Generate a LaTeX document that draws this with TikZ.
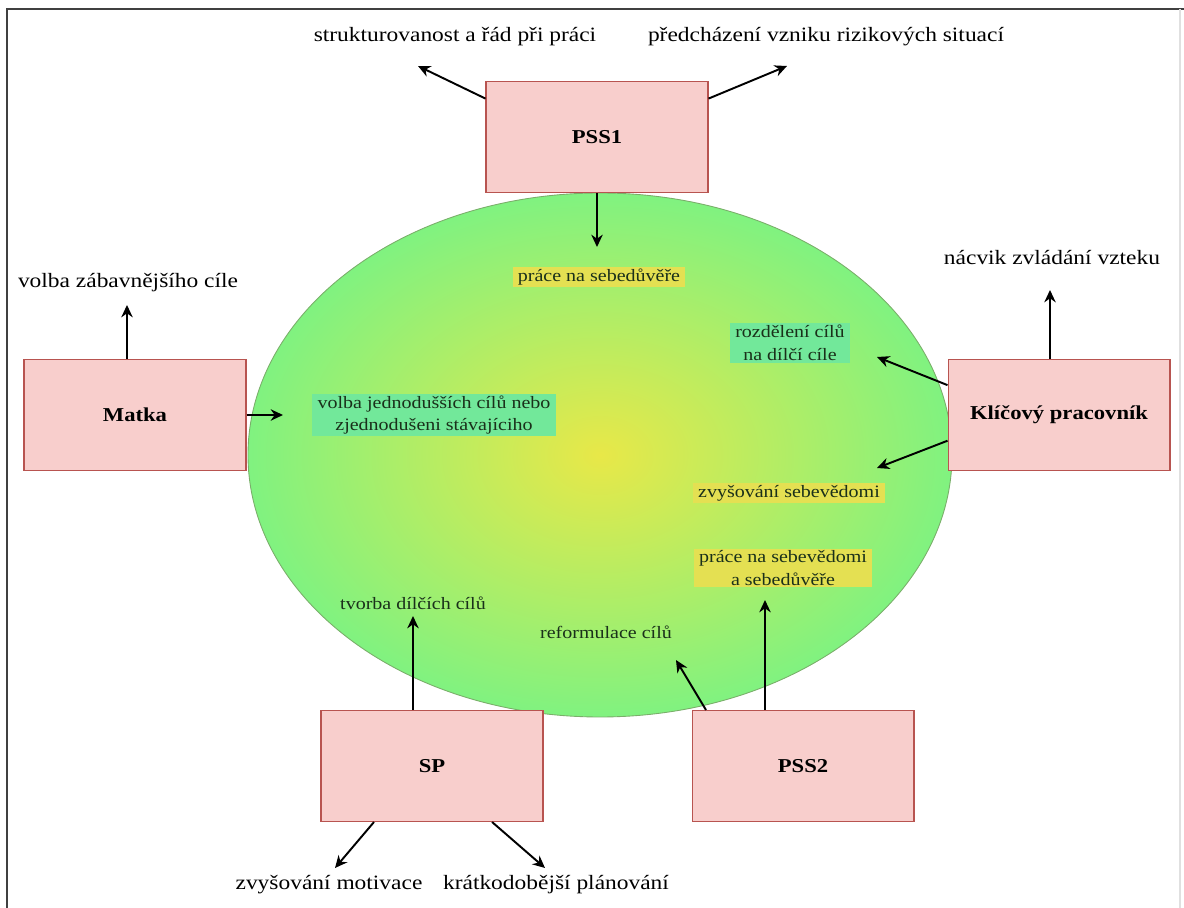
\documentclass[tikz,border=0pt]{standalone}
\usepackage{fontspec}
\setmainfont{Liberation Serif}[FakeStretch=1.15]
\usetikzlibrary{arrows.meta}
\definecolor{boxfill}{HTML}{F8CECC}
\definecolor{boxline}{HTML}{B85450}
\definecolor{ovalout}{HTML}{80F280}
\definecolor{ovalin}{HTML}{E8E848}
\definecolor{ovalline}{HTML}{7AAE6A}
\definecolor{hlyellow}{HTML}{E4E052}
\definecolor{hlgreen}{HTML}{72E89A}
\definecolor{ovaltext}{HTML}{1A301A}

\begin{document}
\begin{tikzpicture}[x=0.02cm,y=-0.02cm,->,>={Stealth[length=7pt,width=6.5pt]},line width=1.1pt,
  role/.style={rectangle,draw=boxline,fill=boxfill,line width=0.6pt,minimum width=4.44cm,minimum height=2.22cm,font=\fontsize{11.2}{13}\selectfont\bfseries},
  outer/.style={font=\fontsize{11.6}{13}\selectfont},
  inner/.style={align=center,text=ovaltext,inner xsep=3pt,inner ysep=1pt,font=\fontsize{9.9}{13}\selectfont},
  yel/.style={inner,fill=hlyellow},
  grn/.style={inner,fill=hlgreen}]
  \useasboundingbox (0,0) rectangle (1184,908);
  % frame
  \draw[-,black!75,line width=1.2pt] (1184,9) -- (7,9) -- (7,908);
  \draw[-,black!12,line width=0.6pt] (1180,9) -- (1180,908);
  % oval
  \shadedraw[inner color=ovalin,outer color=ovalout,draw=ovalline,line width=0.5pt] (600,455) ellipse (352 and 262);

  \node[role] (pss1) at (597,137) {PSS1};
  \node[role] (matka) at (135,415) {Matka};
  \node[role] (klic) at (1059,415) {Klíčový pracovník};
  \node[role] (sp) at (432,766) {SP};
  \node[role] (pss2) at (803,766) {PSS2};

  \node[outer] (strukt) at (455,37) {strukturovanost a řád při práci};
  \node[outer] (predch) at (826,37) {předcházení vzniku rizikových situací};
  \node[outer] (zabav) at (128,283) {volba zábavnějšího cíle};
  \node[outer] (vztek) at (1052,258) {nácvik zvládání vzteku};
  \node[outer] (motiv) at (329,885) {zvyšování motivace};
  \node[outer] (plan) at (556,885) {krátkodobější plánování};

  \node[yel] (sebed) at (599,277) {práce na sebedůvěře};
  \node[grn] (rozd) at (790,343) {rozdělení cílů\\na dílčí cíle};
  \node[grn] (jedn) at (434,415) {volba jednodušších cílů nebo\\zjednodušeni stávajíciho};
  \node[yel] (sebev) at (789,493) {zvyšování sebevědomi};
  \node[yel] (prace) at (783,568) {práce na sebevědomi\\a sebedůvěře};
  \node[inner] (tvorba) at (413,603) {tvorba dílčích cílů};
  \node[inner] (reform) at (606,632) {reformulace cílů};

  \coordinate (tstrukt) at (418,66);
  \coordinate (tpredch) at (787,66);
  \coordinate (tsebed) at (597,247);
  \coordinate (tzabav) at (127,305);
  \coordinate (tjedn) at (283,415);
  \coordinate (trozd) at (877,357);
  \coordinate (tsebev) at (877,468);
  \coordinate (tvztek) at (1050,290);
  \coordinate (ttvorba) at (413,616);
  \coordinate (tmotiv) at (335,868);
  \coordinate (tplan) at (545,868);
  \coordinate (treform) at (676,660);
  \coordinate (tprace) at (765,600);

  \path
    (pss1.161) edge (tstrukt)
    (pss1.19) edge (tpredch)
    (pss1.south -| tsebed) edge (tsebed)
    (matka.north -| tzabav) edge (tzabav)
    (matka.east) edge (tjedn)
    (klic.165) edge (trozd)
    (klic.193) edge (tsebev)
    (klic.north -| tvztek) edge (tvztek)
    (sp.north -| ttvorba) edge (ttvorba)
    (sp.224) edge (tmotiv)
    (sp.317) edge (tplan)
    (pss2.150) edge (treform)
    (pss2.north -| tprace) edge (tprace);
\end{tikzpicture}
\end{document}
